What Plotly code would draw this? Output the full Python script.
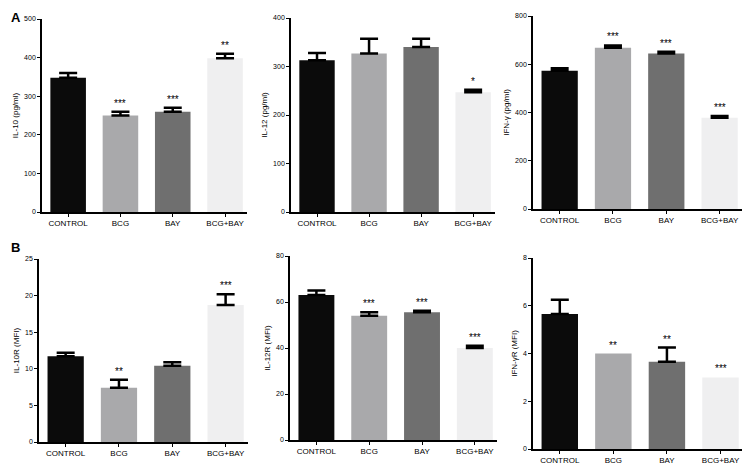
import plotly.graph_objects as go

categories = ["CONTROL", "BCG", "BAY", "BCG+BAY"]
bar_colors = ["#0b0b0b", "#a9a9ab", "#6f6f6f", "#efeff0"]

titles = ["IL-10 (pg/ml)", "IL-12 (pg/ml)", "IFN-γ (pg/ml)",
          "IL-10R (MFI)", "IL-12R (MFI)", "IFN-γR (MFI)"]

il10 = [348, 250, 260, 398]
il10_sem = [12, 10, 10, 12]
il12 = [313, 327, 340, 247]
il12_sem = [15, 30, 17, 5]
ifng = [573, 668, 645, 378]
ifng_sem = [10, 10, 7, 7]
il10r = [11.7, 7.4, 10.4, 18.7]
il10r_sem = [0.5, 1.1, 0.5, 1.5]
il12r = [63, 54, 55.5, 40]
il12r_sem = [2.0, 1.5, 0.7, 1.0]
ifngr = [5.65, 4.0, 3.65, 3.0]
ifngr_sem = [0.6, None, 0.6, None]

sig_il10 = ["", "***", "***", "**"]
sig_il12 = ["", "", "", "*"]
sig_ifng = ["", "***", "***", "***"]
sig_il10r = ["", "**", "", "***"]
sig_il12r = ["", "***", "***", "***"]
sig_ifngr = ["", "**", "**", "***"]

y_ranges = [[0, 500], [0, 400], [0, 800], [0, 25], [0, 80], [0, 8]]
y_dticks = [100, 100, 200, 5, 20, 2]

panels = [
    (il10, il10_sem, sig_il10),
    (il12, il12_sem, sig_il12),
    (ifng, ifng_sem, sig_ifng),
    (il10r, il10r_sem, sig_il10r),
    (il12r, il12r_sem, sig_il12r),
    (ifngr, ifngr_sem, sig_ifngr),
]

# the page body has an 8px default margin; figure is sized to fill the rest
OFF = 8
W, H = 750 - OFF, 473 - OFF
# screen pixel boxes [x0, x1, ytop, ybottom]
boxes = [
    (42, 247, 19, 212),
    (291, 495, 18, 212),
    (533, 742, 16, 209),
    (39, 248, 259, 442),
    (290, 497, 256, 440),
    (533, 743, 258, 449),
]


def px(sx):
    return (sx - OFF) / W


def py(sy):
    return 1 - (sy - OFF) / H


fig = go.Figure()
annotations = []
font_family = "Liberation Sans Narrow, Liberation Sans, Arial, sans-serif"

for i, ((vals, sem, sig), box) in enumerate(zip(panels, boxes)):
    n = i + 1
    xa = "x" if n == 1 else f"x{n}"
    ya = "y" if n == 1 else f"y{n}"
    fig.add_trace(go.Bar(
        x=categories, y=vals, xaxis=xa, yaxis=ya,
        marker=dict(color=bar_colors, line=dict(width=0)),
        width=0.68, showlegend=False,
    ))
    ex = [c for c, s in zip(categories, sem) if s is not None]
    ev = [v for v, s in zip(vals, sem) if s is not None]
    es = [s for s in sem if s is not None]
    fig.add_trace(go.Scatter(
        x=ex, y=ev, xaxis=xa, yaxis=ya, mode="markers",
        marker=dict(size=1, opacity=0),
        error_y=dict(type="data", symmetric=False, array=es,
                     arrayminus=[0] * len(es), color="#000000",
                     thickness=2.5, width=9),
        showlegend=False,
    ))
    x0, x1, yt, yb = box
    xd = [px(x0), min(px(x1), 1)]
    yd = [py(yb), py(yt)]
    axis_common = dict(showline=True, linecolor="#000000", linewidth=1.6,
                       ticks="outside", ticklen=3, tickwidth=1,
                       tickcolor="#000000", showgrid=False, zeroline=False,
                       automargin=False,
                       tickfont=dict(size=8, family=font_family, color="#000000"))
    fig.layout[f"xaxis{'' if n == 1 else n}"] = dict(
        domain=xd, anchor=ya, range=[-0.5, 3.42], type="category",
        categoryorder="array", categoryarray=categories,
        **axis_common)
    fig.layout[f"yaxis{'' if n == 1 else n}"] = dict(
        domain=yd, anchor=xa, range=y_ranges[i], dtick=y_dticks[i],
        title=dict(text=titles[i], font=dict(size=8, family=font_family,
                                              color="#000000"), standoff=4),
        **{**axis_common, "tickfont": dict(size=7, family=font_family,
                                           color="#000000")})
    for c, v, s, t in zip(categories, vals, sem, sig):
        if t:
            top = v + (s if s is not None else 0)
            annotations.append(dict(
                x=c, y=top, xref=xa, yref=ya, text=t, showarrow=False,
                yanchor="bottom", yshift=1,
                font=dict(size=10, family=font_family, color="#000000")))

annotations.append(dict(x=px(9), y=py(8), xref="paper", yref="paper",
                        text="<b>A</b>", showarrow=False, xanchor="left",
                        yanchor="top",
                        font=dict(size=13, family="Liberation Sans, Arial",
                                  color="#000000")))
annotations.append(dict(x=px(9), y=py(238), xref="paper", yref="paper",
                        text="<b>B</b>", showarrow=False, xanchor="left",
                        yanchor="top",
                        font=dict(size=13, family="Liberation Sans, Arial",
                                  color="#000000")))

fig.update_layout(
    template="none",
    width=W, height=H, margin=dict(l=0, r=0, t=0, b=0),
    paper_bgcolor="white", plot_bgcolor="white",
    annotations=annotations, bargap=0.3,
)

fig.write_html("out.html")
